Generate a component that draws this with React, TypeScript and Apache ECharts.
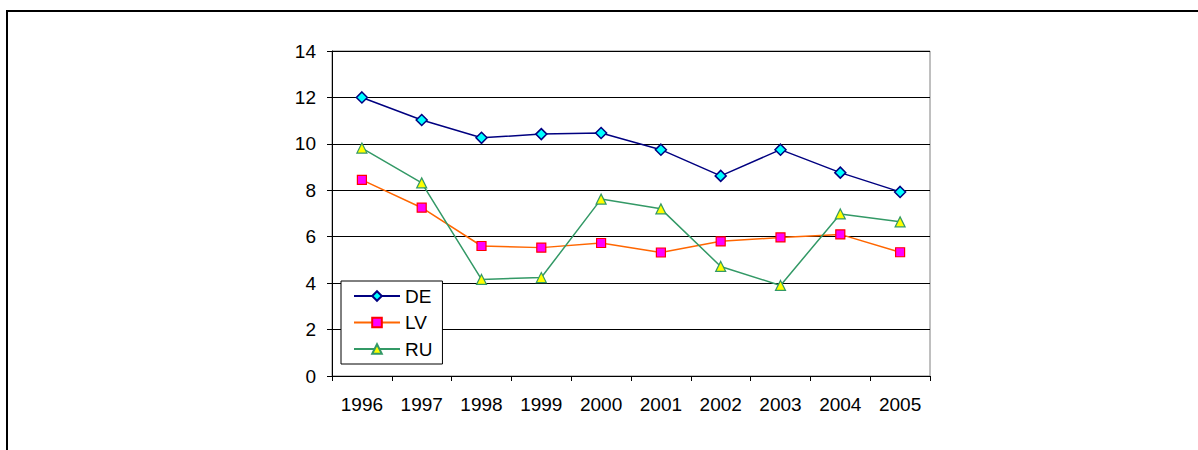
import React, { useEffect, useRef } from "react";
import * as echarts from "echarts";

const years = ["1996", "1997", "1998", "1999", "2000", "2001", "2002", "2003", "2004", "2005"];
const deValues = [12.0, 11.03, 10.26, 10.42, 10.47, 9.75, 8.62, 9.75, 8.76, 7.93];
const lvValues = [8.45, 7.25, 5.6, 5.53, 5.73, 5.32, 5.8, 5.97, 6.1, 5.33];
const ruValues = [9.82, 8.32, 4.16, 4.24, 7.62, 7.2, 4.72, 3.9, 6.98, 6.64];
const yTicks = { min: 0, max: 14, interval: 2 };

const FONT = "'Liberation Sans', Arial, sans-serif";

export default function App() {
  const ref = useRef<HTMLDivElement>(null);
  useEffect(() => {
    if (!ref.current) return;
    const chart = echarts.init(ref.current, undefined, { renderer: "svg" });
    chart.setOption({
      animation: false,
      backgroundColor: "#ffffff",
      textStyle: { fontFamily: FONT },
      graphic: [
        {
          type: "rect",
          shape: { x: 7, y: 11, width: 1400, height: 600 },
          style: { fill: "none", stroke: "#000", lineWidth: 2 },
          silent: true,
          z: 0,
        },
      ],
      grid: {
        left: 332,
        top: 51,
        width: 598,
        height: 325,
        show: true,
        borderColor: "#808080",
        borderWidth: 1,
        backgroundColor: "transparent",
      },
      legend: {
        orient: "vertical",
        left: 341,
        top: 281,
        backgroundColor: "#fff",
        borderColor: "#000",
        borderWidth: 1,
        padding: [5, 10, 5, 12],
        itemWidth: 46,
        itemHeight: 12,
        itemGap: 6.5,
        textStyle: { fontSize: 19, color: "#000", fontFamily: FONT, lineHeight: 20 },
        data: ["DE", "LV", "RU"],
      },
      xAxis: {
        type: "category",
        data: years,
        boundaryGap: true,
        axisLine: { show: true, lineStyle: { color: "#000", width: 1 } },
        axisTick: { show: true, length: 5, alignWithLabel: false, lineStyle: { color: "#000" } },
        axisLabel: { fontSize: 19, color: "#000", margin: 19, fontFamily: FONT, interval: 0 },
        splitLine: { show: false },
      },
      yAxis: {
        type: "value",
        min: yTicks.min,
        max: yTicks.max,
        interval: yTicks.interval,
        axisLine: { show: true, lineStyle: { color: "#000", width: 1 } },
        axisTick: { show: true, length: 5, lineStyle: { color: "#000" } },
        axisLabel: { fontSize: 19, color: "#000", margin: 16, fontFamily: FONT },
        splitLine: { show: true, lineStyle: { color: "#000", width: 1 } },
      },
      series: [
        {
          name: "DE",
          type: "line",
          data: deValues,
          symbol: "diamond",
          symbolSize: 11,
          lineStyle: { color: "#000080", width: 1.5 },
          itemStyle: { color: "#00FFFF", borderColor: "#000080", borderWidth: 1.5 },
          z: 3,
        },
        {
          name: "LV",
          type: "line",
          data: lvValues,
          symbol: "rect",
          symbolSize: 9,
          lineStyle: { color: "#FF6600", width: 1.5 },
          itemStyle: { color: "#FF00FF", borderColor: "#FF0000", borderWidth: 1.2 },
          z: 3,
        },
        {
          name: "RU",
          type: "line",
          data: ruValues,
          symbol: "triangle",
          symbolSize: 10,
          lineStyle: { color: "#339966", width: 1.5 },
          itemStyle: { color: "#FFFF00", borderColor: "#339966", borderWidth: 1.2 },
          z: 3,
        },
      ],
    });
    return () => chart.dispose();
  }, []);
  return (
    <div
      ref={ref}
      style={{ position: "absolute", left: 0, top: 0, width: 1198, height: 450 }}
    />
  );
}
